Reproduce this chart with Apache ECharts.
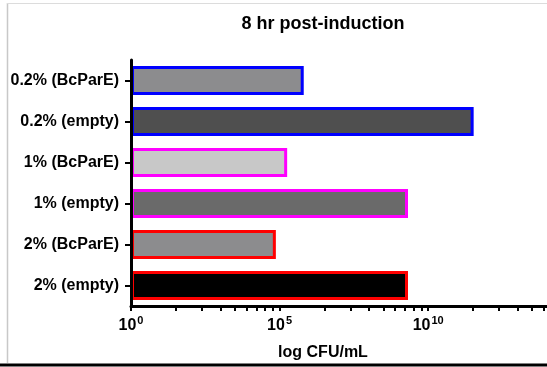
<!doctype html>
<html lang="en">
<head>
    <meta charset="UTF-8">
    <title>8 hr post-induction</title>
    <script src="https://cdn.jsdelivr.net/npm/echarts@6/dist/echarts.min.js"></script>
    <style>
        html, body { margin: 0; padding: 0; background: #fff; }
        #chart { width: 547px; height: 367px; }
    </style>
</head>
<body>
<div id="chart"></div>
<script type="text/javascript">
/* data */
const categories = ['0.2% (BcParE)', '0.2% (empty)', '1% (BcParE)', '1% (empty)', '2% (BcParE)', '2% (empty)'];
const cfuValues = [6.5e5, 3.4e11, 1.8e5, 2.1e9, 7.5e4, 2.1e9];
const majorTicks = [1, 1e5, 1e10];
const minorSteps = [32, 243, 1024, 3125, 7776, 16807, 32768, 59049]; // k^5, k = 2..9
const axisMax = 1e14;

/* styles */
const fillColors = ['#8c8c8e', '#4f4f4f', '#c8c8c8', '#6a6a6a', '#8c8c8e', '#000000'];
const borderColors = ['#0000ff', '#0000ff', '#ff00ff', '#ff00ff', '#ff0000', '#ff0000'];

const FONT = '"Liberation Sans", Arial, sans-serif';

let tickValues = [];
majorTicks.forEach(function (m) {
    tickValues.push(m);
    minorSteps.forEach(function (s) {
        if (m * s <= axisMax) tickValues.push(m * s);
    });
});

let chart = echarts.init(document.getElementById('chart'));

let option = {
    animation: false,
    backgroundColor: '#fff',
    title: [
        {
            text: '8 hr post-induction',
            left: 318, top: 10, textAlign: 'center',
            textStyle: { fontFamily: FONT, fontSize: 18, fontWeight: 'bold', color: '#000' }
        }, {
            text: 'log CFU/mL',
            left: 318, top: 340, textAlign: 'center',
            textStyle: { fontFamily: FONT, fontSize: 16, fontWeight: 'bold', color: '#000' }
        }
    ],
    grid: { left: 131, top: 60, bottom: 61, right: -10, containLabel: false },
    xAxis: {
        type: 'log',
        logBase: 10,
        min: 1,
        max: axisMax,
        z: 5,
        splitLine: { show: false },
        axisLine: { show: true, lineStyle: { color: '#000', width: 3 } },
        axisTick: {
            show: true, length: 5, inside: false,
            customValues: tickValues,
            lineStyle: { color: '#000', width: 2 }
        },
        minorTick: { show: false },
        axisLabel: {
            customValues: majorTicks,
            margin: 9,
            formatter: function (v) {
                return '{b|10}{s|' + Math.round(Math.log10(v)) + '}';
            },
            rich: {
                b: { fontFamily: FONT, fontSize: 16, fontWeight: 'bold', color: '#000' },
                s: { fontFamily: FONT, fontSize: 11, fontWeight: 'bold', color: '#000', padding: [0, 0, 10, 1] }
            }
        }
    },
    yAxis: {
        type: 'category',
        data: categories,
        inverse: true,
        z: 5,
        axisLine: { show: true, lineStyle: { color: '#000', width: 3 } },
        axisTick: { show: true, alignWithLabel: true, length: 6, lineStyle: { color: '#000', width: 2 } },
        axisLabel: {
            margin: 12,
            fontFamily: FONT, fontSize: 16, fontWeight: 'bold', color: '#000'
        }
    },
    series: [
        {
            type: 'bar',
            barWidth: 29,
            data: cfuValues.map(function (v, i) {
                return {
                    value: v,
                    itemStyle: { color: fillColors[i], borderColor: borderColors[i], borderWidth: 3 }
                };
            })
        }
    ],
    graphic: [
        { type: 'line', shape: { x1: 7.5, y1: 3, x2: 7.5, y2: 363 }, style: { stroke: '#c8c8c8', lineWidth: 1.5 } },
        { type: 'line', shape: { x1: 7, y1: 3.5, x2: 547, y2: 3.5 }, style: { stroke: '#dcdcdc', lineWidth: 1 } },
        { type: 'line', shape: { x1: 0, y1: 365, x2: 547, y2: 365 }, style: { stroke: '#000', lineWidth: 3 } }
    ]
};
chart.setOption(option);
</script>
</body>
</html>
